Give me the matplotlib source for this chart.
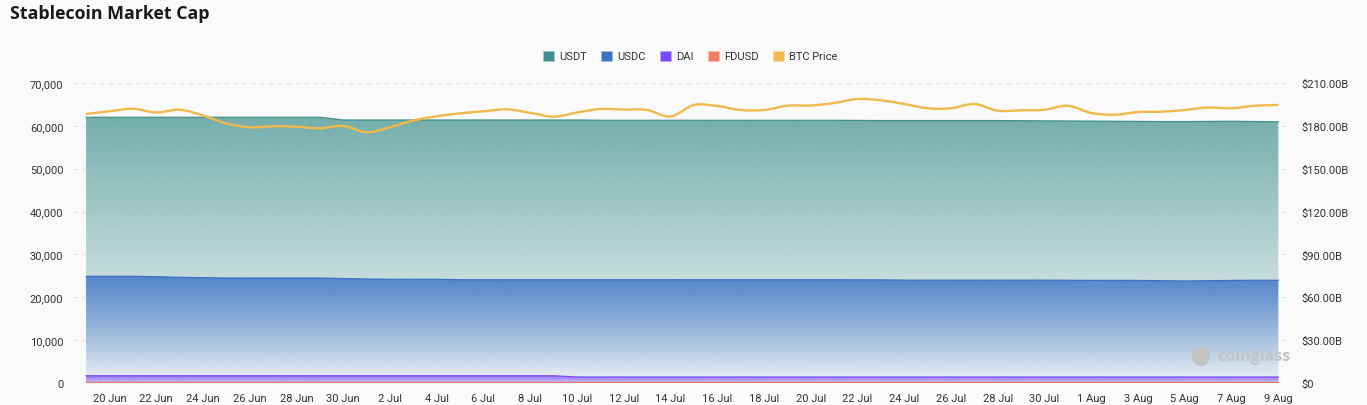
import matplotlib
matplotlib.use('Agg')
import matplotlib.pyplot as plt
import matplotlib.dates as mdates
import matplotlib.colors as mcolors
import matplotlib.patches as mpatches
from matplotlib.path import Path
import numpy as np
import pandas as pd

# data, daily from 19 Jun to 9 Aug
dates = pd.date_range('2024-06-19', '2024-08-09', freq='D')

# market cap tops of each band [B USD] (right axis)
usdt = [186.0, 186.0, 186.0, 186.0, 186.0, 186.0, 186.0, 186.0, 186.0, 186.0,
        186.0, 184.1, 184.1, 184.1, 184.1, 184.1, 184.1, 184.1, 184.1, 184.1,
        184.1, 184.1, 183.9, 183.9, 183.9, 183.9, 183.9, 183.9, 183.9, 183.9,
        183.9, 183.9, 183.9, 183.8, 183.7, 183.7, 183.7, 183.7, 183.7, 183.7,
        183.6, 183.5, 183.4, 183.3, 183.2, 183.1, 183.0, 183.0, 183.1, 183.2,
        183.0, 182.8]
usdc = [74.7, 74.7, 74.7, 74.4, 74.0, 73.7, 73.5, 73.5, 73.5, 73.5,
        73.5, 73.1, 72.8, 72.6, 72.6, 72.6, 72.3, 72.3, 72.3, 72.3,
        72.3, 72.3, 72.3, 72.3, 72.3, 72.3, 72.3, 72.3, 72.3, 72.3,
        72.3, 72.3, 72.3, 72.2, 72.2, 72.0, 72.0, 72.0, 72.0, 72.0,
        72.0, 72.0, 71.9, 71.8, 71.8, 71.8, 71.6, 71.4, 71.6, 71.8,
        71.9, 71.9]
dai   = [5.1]*21 + [4.2]*31
fdusd = [0.6]*52

# BTC price [USD] (left axis)
btc = [62770, 63400, 64000, 63120, 63770, 62420, 60550, 59660, 59900, 59800,
       59430, 59970, 58500, 59690, 61250, 62230, 62930, 63400, 63860, 63050,
       62140, 63120, 63930, 63800, 63700, 62180, 64870, 64630, 63700, 63700,
       64700, 64750, 65330, 66270, 65960, 65100, 64100, 64100, 65100, 63540,
       63630, 63750, 64700, 63000, 62600, 63230, 63300, 63700, 64280, 64100,
       64700, 64870]

series_names  = ['USDT', 'USDC', 'DAI', 'FDUSD']
series_colors = ['#3f908c', '#3b72c6', '#7b4cf5', '#f07e65']
btc_color = '#f0b94a'

left_ticks  = [0, 10000, 20000, 30000, 40000, 50000, 60000, 70000]
right_ticks = [0, 30, 60, 90, 120, 150, 180, 210]

bg = '#fafafa'
txt = '#333333'

def gradientArea(ax, xn, y, color, aTop, aBot, z):
  fill = ax.fill_between(xn, 0, y, facecolor='none', edgecolor='none', zorder=z)
  rgba = np.zeros((256, 1, 4))
  rgba[:, :, :3] = mcolors.to_rgb(color)
  rgba[:, 0, 3] = np.linspace(aBot, aTop, 256)
  im = ax.imshow(rgba, aspect='auto', origin='lower', interpolation='bilinear',
                 extent=[xn[0], xn[-1], 0, max(y)], zorder=z)
  im.set_clip_path(fill.get_paths()[0], transform=ax.transData)
  ax.plot(xn, y, color=color, lw=0.9, zorder=z + 0.1)
  return

def smoothPath(xn, y):
  pts = np.column_stack([xn, y])
  n = len(pts)
  verts = [pts[0]]
  codes = [Path.MOVETO]
  for i in range(n - 1):
    p0 = pts[max(i - 1, 0)]; p1 = pts[i]; p2 = pts[i + 1]; p3 = pts[min(i + 2, n - 1)]
    verts += [p1 + (p2 - p0) / 6., p2 - (p3 - p1) / 6., p2]
    codes += [Path.CURVE4] * 3
  return Path(verts, codes)

fig = plt.figure(figsize=(13.67, 4.06), dpi=100, facecolor=bg)
ax = fig.add_axes([73 / 1367, 22 / 406, (1290 - 73) / 1367, 300 / 406])
ax.set_facecolor(bg)
ax2 = ax.twinx()

xn = mdates.date2num(dates)

# opaque backing so the grid does not show through the areas
ax.fill_between(xn, 0, usdt, facecolor=bg, edgecolor='none', zorder=1.5)

# areas on the market-cap axis
alphas = [(0.72, 0.0), (0.82, 0.04), (0.8, 0.3), (0.9, 0.9)]
for k, vals in enumerate([usdt, usdc, dai, fdusd]):
  gradientArea(ax, xn, vals, series_colors[k], alphas[k][0], alphas[k][1], 2 + k)

# BTC line on the price axis
ax2.add_patch(mpatches.PathPatch(smoothPath(xn, btc), fill=False, edgecolor=btc_color, lw=1.7, zorder=5))

ax.set_xlim(xn[0] - 0.56, xn[-1] + 0.5)
ax.set_ylim(0, 210)
ax2.set_ylim(0, 70000)

ax.yaxis.tick_right()
ax2.yaxis.tick_left()
ax.set_yticks(right_ticks)
ax.set_yticklabels(['$0' if v == 0 else '${:.2f}B'.format(v) for v in right_ticks])
ax2.set_yticks(left_ticks)
ax2.set_yticklabels(['{:,}'.format(v) for v in left_ticks])

xt = pd.date_range('2024-06-20', '2024-08-09', freq='2D')
ax.set_xticks(mdates.date2num(xt))
ax.set_xticklabels([d.strftime('%-d %b') for d in xt])

ax.set_axisbelow(True)
ax.grid(axis='y', ls=(0, (4, 4)), color='#e2e2e2', lw=0.8)
for a in (ax, ax2):
  for s in a.spines.values(): s.set_visible(False)
  a.tick_params(length=0, labelsize=8, colors=txt)
  for lab in a.get_xticklabels() + a.get_yticklabels(): lab.set_family('Roboto')
ax.tick_params(axis='x', pad=7)
ax.tick_params(axis='y', pad=8)
ax2.tick_params(axis='y', pad=7)

# legend
handles = [mpatches.Patch(facecolor=c, edgecolor=mcolors.to_hex(np.array(mcolors.to_rgb(c)) * 0.5 + 0.5), lw=0.6)
           for c in series_colors + [btc_color]]
leg = fig.legend(handles, series_names + ['BTC Price'], loc='center', bbox_to_anchor=(0.505, 1 - 57 / 406),
                 ncol=5, frameon=False, handlelength=1.0, handleheight=1.0,
                 handletextpad=0.45, columnspacing=1.3, prop={'family': 'Roboto', 'size': 8})
for t in leg.get_texts(): t.set_color(txt)

# title
fig.text(10 / 1367, 1 - 14 / 406, 'Stablecoin Market Cap', fontsize=12.8, fontweight='bold',
         family='Open Sans', color='#1a1a1a', va='center', ha='left')

# watermark
fig.patches.append(mpatches.Ellipse((1201 / 1367, 1 - 357 / 406), 18 / 1367, 20 / 406,
                                    transform=fig.transFigure, facecolor='#c4c4c4', edgecolor='none', zorder=10))
fig.text(1217 / 1367, 1 - 357 / 406, 'coinglass', fontsize=11.5, fontweight='bold', family='Open Sans',
         color='#c4c4c4', va='center', ha='left', zorder=10)

fig.savefig('out.png', dpi=100, facecolor=bg)
